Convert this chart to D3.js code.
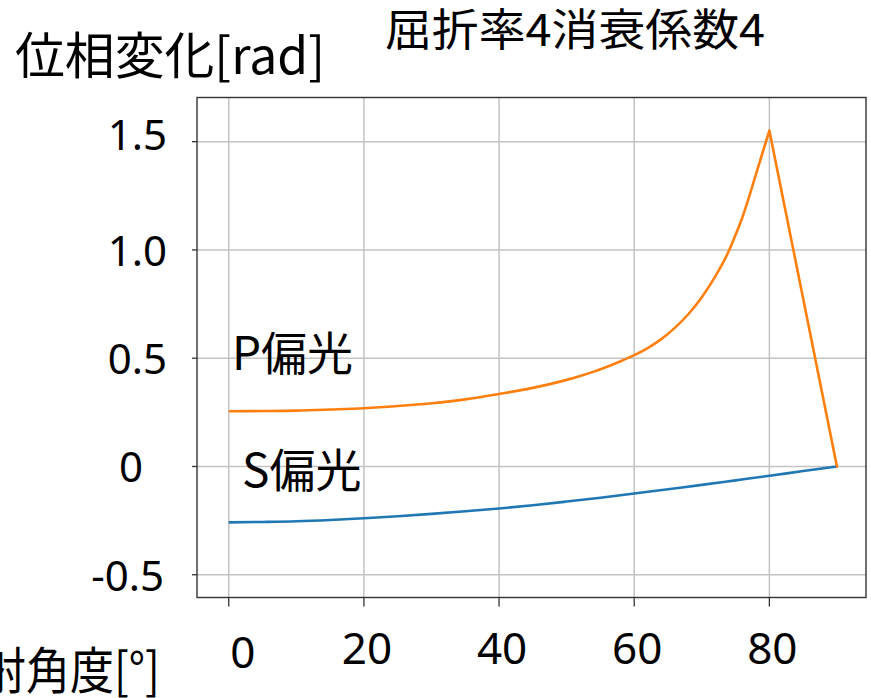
<!DOCTYPE html>
<html>
<head>
<meta charset="utf-8">
<script src="https://cdn.jsdelivr.net/npm/d3@7"></script>
<style>
  body { margin: 0; background: #fff; }
  text { font-family: "Noto Sans CJK JP", "Noto Sans", sans-serif; fill: #000; }
</style>
</head>
<body>
<div id="chart"></div>
<script>
const WIDTH = 871;
const HEIGHT = 698;

// data
const pAngles = [0, 5, 10, 15, 20, 25, 30, 35, 40, 45, 50, 52, 54, 56, 58, 60, 62, 64, 66, 68, 70, 72, 74, 75, 76, 77, 78, 79, 80, 90];
const pPhase  = [0.255, 0.256, 0.258, 0.263, 0.269, 0.279, 0.292, 0.310, 0.335, 0.363, 0.400, 0.418, 0.438, 0.461, 0.486, 0.514, 0.547, 0.588, 0.640, 0.703, 0.782, 0.878, 0.995, 1.070, 1.150, 1.245, 1.348, 1.450, 1.551, 0];
const sAngles = [0, 5, 10, 15, 20, 25, 30, 35, 40, 45, 50, 55, 60, 65, 70, 75, 80, 85, 90];
const sPhase  = [-0.258, -0.256, -0.253, -0.247, -0.239, -0.230, -0.219, -0.207, -0.194, -0.179, -0.162, -0.144, -0.125, -0.105, -0.085, -0.064, -0.043, -0.021, 0];

const xTicks = [0, 20, 40, 60, 80];
const yTicks = [-0.5, 0, 0.5, 1.0, 1.5];
const yTickLabels = ["-0.5", "0", "0.5", "1.0", "1.5"];

const title = "屈折率4消衰係数4";
const yTitle = "位相変化[rad]";
const xTitle = "入射角度[°]";
const pLabel = "P偏光";
const sLabel = "S偏光";

function main(){
    let svg = d3.select("#chart")
        .append("svg")
        .attr("width", WIDTH)
        .attr("height", HEIGHT);

    let left = 197, right = 866, top = 97.5, bottom = 597.5;

    let x = d3.scaleLinear().domain([-4.7, 94.3]).range([left, right]);
    let y = d3.scaleLinear().domain([-0.605, 1.704]).range([bottom, top]);

    // grid
    svg.append("g")
        .selectAll("line")
        .data(xTicks)
        .join("line")
        .attr("x1", d => x(d)).attr("x2", d => x(d))
        .attr("y1", top).attr("y2", bottom)
        .style("stroke", "#c3c3c3")
        .style("stroke-width", 1.5);

    svg.append("g")
        .selectAll("line")
        .data(yTicks)
        .join("line")
        .attr("x1", left).attr("x2", right)
        .attr("y1", d => y(d)).attr("y2", d => y(d))
        .style("stroke", "#c3c3c3")
        .style("stroke-width", 1.5);

    // x ticks below frame
    svg.append("g")
        .selectAll("line")
        .data(xTicks)
        .join("line")
        .attr("x1", d => x(d)).attr("x2", d => x(d))
        .attr("y1", bottom).attr("y2", bottom + 9)
        .style("stroke", "#333")
        .style("stroke-width", 1.3);

    // y ticks left of frame
    svg.append("g")
        .selectAll("line")
        .data(yTicks)
        .join("line")
        .attr("x1", left - 5).attr("x2", left)
        .attr("y1", d => y(d)).attr("y2", d => y(d))
        .style("stroke", "#333")
        .style("stroke-width", 1.3);

    // frame
    svg.append("rect")
        .attr("x", left).attr("y", top)
        .attr("width", right - left).attr("height", bottom - top)
        .style("fill", "none")
        .style("stroke", "#333")
        .style("stroke-width", 1.4);

    // lines
    let smooth = d3.line()
        .x(d => x(d[0]))
        .y(d => y(d[1]))
        .curve(d3.curveMonotoneX);
    let straight = d3.line()
        .x(d => x(d[0]))
        .y(d => y(d[1]));

    svg.append("path")
        .datum(sAngles.map((a, i) => [a, sPhase[i]]))
        .attr("d", smooth)
        .style("fill", "none")
        .style("stroke", "#1f77b4")
        .style("stroke-width", 2.6);

    // P curve: smooth rise up to the peak, then a straight drop to the last point
    let pData = pAngles.map((a, i) => [a, pPhase[i]]);
    let n = pData.length;
    svg.append("path")
        .datum(pData.slice(0, n - 1))
        .attr("d", smooth)
        .style("fill", "none")
        .style("stroke", "#ff7f0e")
        .style("stroke-width", 2.6);
    svg.append("path")
        .datum(pData.slice(n - 2))
        .attr("d", straight)
        .style("fill", "none")
        .style("stroke", "#ff7f0e")
        .style("stroke-width", 2.6)
        .style("stroke-linecap", "round");

    // tick labels
    let numFont = "'Noto Sans', sans-serif";
    svg.append("g")
        .selectAll("text")
        .data(xTicks)
        .join("text")
        .attr("x", d => x(d) + (d === 0 ? 14 : 3))
        .attr("y", d => d === 0 ? 668 : 664)
        .attr("text-anchor", "middle")
        .style("font-family", numFont)
        .style("font-size", "44px")
        .text(d => d);

    svg.append("g")
        .selectAll("text")
        .data(yTicks)
        .join("text")
        .attr("x", d => d === 0 ? 131 : (d < 0 ? 164 : 167))
        .attr("y", d => y(d) + (d === 1.5 ? 8 : 16))
        .attr("text-anchor", d => d === 0 ? "middle" : "end")
        .style("font-family", numFont)
        .style("font-size", "42px")
        .text((d, i) => yTickLabels[i]);

    // titles
    svg.append("text")
        .attr("x", 385).attr("y", 46)
        .attr("textLength", 380)
        .attr("lengthAdjust", "spacingAndGlyphs")
        .style("font-size", "44px")
        .text(title);

    svg.append("text")
        .attr("x", 15).attr("y", 74)
        .attr("textLength", 310)
        .attr("lengthAdjust", "spacingAndGlyphs")
        .style("font-size", "50px")
        .text(yTitle);

    svg.append("text")
        .attr("x", -62).attr("y", 689)
        .attr("textLength", 222)
        .attr("lengthAdjust", "spacingAndGlyphs")
        .style("font-size", "50px")
        .text(xTitle);

    // series labels
    svg.append("text")
        .attr("x", 232).attr("y", 370)
        .style("font-size", "46px")
        .text(pLabel);

    svg.append("text")
        .attr("x", 242).attr("y", 487)
        .style("font-size", "46px")
        .text(sLabel);
}

window.addEventListener("load", main);
</script>
</body>
</html>
